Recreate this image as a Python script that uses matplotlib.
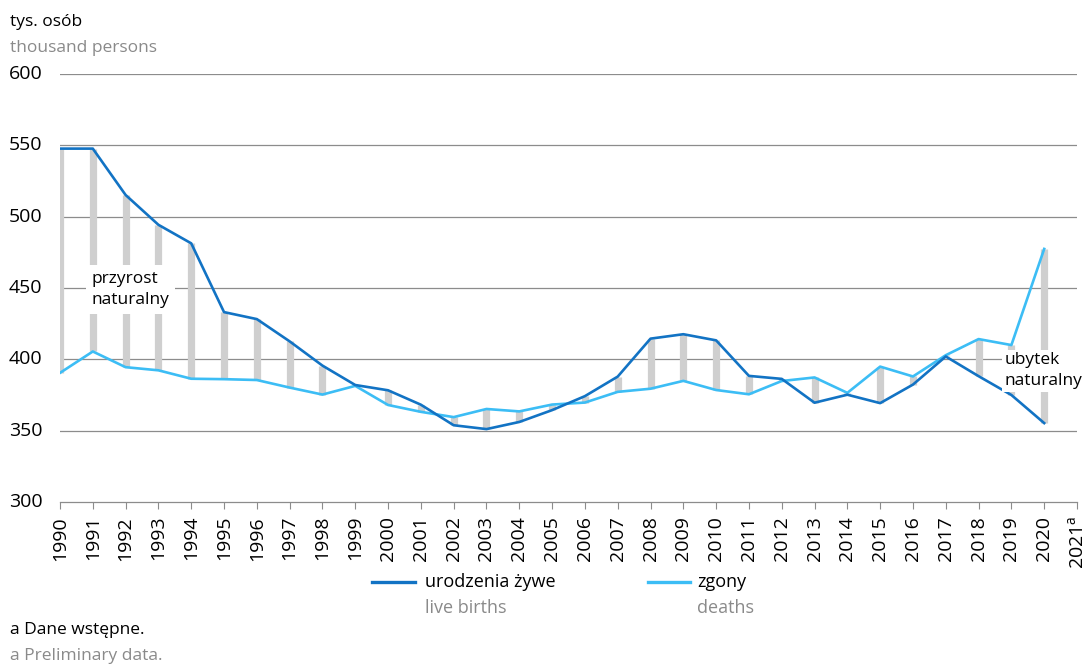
import matplotlib
matplotlib.use("Agg")
import matplotlib.pyplot as plt
from matplotlib.lines import Line2D

plt.rcParams['font.family'] = ['Open Sans', 'DejaVu Sans']
plt.rcParams['mathtext.default'] = 'regular'

# data (thousands of persons)
years = list(range(1990, 2021))
births = [547.7, 547.7, 515.2, 494.3, 481.3, 433.1, 428.2, 412.6, 395.6, 382.0,
          378.3, 368.2, 353.8, 351.1, 356.1, 364.4, 374.2, 387.9, 414.5, 417.6,
          413.3, 388.4, 386.3, 369.6, 375.2, 369.3, 382.3, 402.0, 388.2, 375.0,
          355.3]
deaths = [390.5, 405.5, 394.5, 392.3, 386.4, 386.1, 385.5, 380.2, 375.3, 381.4,
          368.0, 363.2, 359.5, 365.2, 363.5, 368.3, 369.7, 377.2, 379.4, 384.9,
          378.5, 375.5, 384.8, 387.3, 376.5, 394.9, 388.0, 402.9, 414.2, 410.0,
          477.4]
tick_years = list(range(1990, 2022))
tick_labels = [str(y) for y in range(1990, 2021)] + ['$2021^{a}$']
y_ticks = [300, 350, 400, 450, 500, 550, 600]

dark_blue = '#1273c4'
light_blue = '#3cbdf5'
bar_grey = '#cfcfcf'
text_grey = '#8a8a8a'
grid_grey = '#8c8c8c'

fig = plt.figure(figsize=(10.85, 6.65), dpi=100)
ax = fig.add_axes([60 / 1085, 1 - 502 / 665, 1017 / 1085, 428 / 665])

ax.set_xlim(1990, 2021)
ax.set_ylim(300, 600)

for v in y_ticks[1:]:
    ax.axhline(v, color=grid_grey, lw=0.9, zorder=1)

lo = [min(b, d) for b, d in zip(births, deaths)]
hi = [max(b, d) for b, d in zip(births, deaths)]
ax.vlines(years, lo, hi, color=bar_grey, lw=5.2, zorder=2)

ax.plot(years, deaths, color=light_blue, lw=1.9, zorder=3)
ax.plot(years, births, color=dark_blue, lw=1.9, zorder=4)

ax.text(1990.95, 449, 'przyrost\nnaturalny', fontsize=12.5, va='center', ha='left',
        linespacing=1.45, zorder=5,
        bbox=dict(facecolor='white', edgecolor='none', pad=4))
ax.text(2018.78, 392, 'ubytek\nnaturalny', fontsize=12.5, va='center', ha='left',
        linespacing=1.45, zorder=5, clip_on=False,
        bbox=dict(facecolor='white', edgecolor='none', pad=1.5))

for s in ['top', 'right', 'left']:
    ax.spines[s].set_visible(False)
ax.spines['bottom'].set_color(grid_grey)
ax.spines['bottom'].set_linewidth(0.9)

ax.set_xticks(tick_years)
ax.set_xticklabels(tick_labels, rotation=90, fontsize=14)
ax.tick_params(axis='x', direction='out', length=5, color=grid_grey, pad=5)
ax.set_yticks(y_ticks)
ax.set_yticklabels([])
ax.tick_params(axis='y', length=0)
for v in y_ticks:
    ax.annotate(str(v), xy=(0, v), xycoords=('figure fraction', 'data'),
                xytext=(9, 0), textcoords='offset pixels',
                fontsize=14, va='center', ha='left', annotation_clip=False)

fig.text(10 / 1085, 1 - 22 / 665, 'tys. osób', fontsize=12.5, va='center', ha='left')
fig.text(10 / 1085, 1 - 48 / 665, 'thousand persons', fontsize=12.5, va='center',
         ha='left', color=text_grey)

# legend
fig.add_artist(Line2D([372 / 1085, 415 / 1085], [1 - 582 / 665] * 2, color=dark_blue, lw=2.4))
fig.text(425 / 1085, 1 - 582 / 665, 'urodzenia żywe', fontsize=13, va='center')
fig.text(425 / 1085, 1 - 608 / 665, 'live births', fontsize=13, va='center', color=text_grey)
fig.add_artist(Line2D([648 / 1085, 690 / 1085], [1 - 582 / 665] * 2, color=light_blue, lw=2.4))
fig.text(697 / 1085, 1 - 582 / 665, 'zgony', fontsize=13, va='center')
fig.text(697 / 1085, 1 - 608 / 665, 'deaths', fontsize=13, va='center', color=text_grey)

fig.text(10 / 1085, 1 - 630 / 665, 'a Dane wstępne.', fontsize=12.5, va='center')
fig.text(10 / 1085, 1 - 656 / 665, 'a Preliminary data.', fontsize=12.5, va='center',
         color=text_grey)

fig.savefig('out.png', dpi=100)
